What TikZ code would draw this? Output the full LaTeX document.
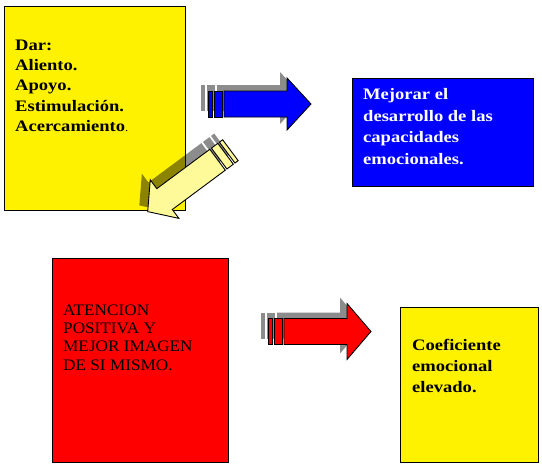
\documentclass[tikz,border=0pt]{standalone}
\usepackage{fontspec}
\setmainfont{Liberation Serif}
\newfontfamily\bfam[FakeStretch=1.16]{Liberation Serif}
\newfontfamily\rfam[FakeStretch=1.075]{Liberation Serif}
\newcommand\blockarr[4]{%
  \begin{scope}[#1]
    \path[#4] (0,-13) rectangle (4,13);
    \path[#4] (6,-13) rectangle (14,13);
    \path[#4] (16,-13) -- (#3,-13) -- (#3,-#2) -- (103,0) -- (#3,#2) -- (#3,13) -- (16,13) -- cycle;
  \end{scope}}
\begin{document}
\begin{tikzpicture}[x=1pt,y=-1pt,
  box/.style={draw=black, line width=1pt, anchor=north west, inner sep=0pt},
  txt/.style={anchor=north west, align=left, inner sep=0pt},
  arrline/.style={draw=black, line width=0.9pt, line join=miter, fill=#1},
  shd/.style={fill=black, opacity=0.45}]
\useasboundingbox (0,0) rectangle (542,467);
\fill[white] (0,0) rectangle (542,467);
% boxes
\node[box, fill=yellow, minimum width=181pt, minimum height=204pt] (b1) at (4,6) {};
\node[box, fill=blue, minimum width=181pt, minimum height=108pt] (b2) at (352,78) {};
\node[box, fill=red, minimum width=176pt, minimum height=204pt] (b3) at (52,258) {};
\node[box, fill=yellow, minimum width=138pt, minimum height=155pt] (b4) at (400,307) {};
% texts
\node[txt, font=\bfam\bfseries\fontsize{16}{20.3}\selectfont] (t1) at (15,36) {\rule{0pt}{14pt}Dar:\\Aliento.\\Apoyo.\\Estimulaci\'on.\\Acercamiento{\mdseries\fontsize{11}{11}\selectfont.}};
\node[txt, font=\bfam\bfseries\fontsize{16}{21.7}\selectfont, text=white] (t2) at (363,85.3) {\rule{0pt}{14pt}Mejorar el\\desarrollo de las\\capacidades\\emocionales.};
\node[txt, font=\rfam\fontsize{16}{18.3}\selectfont] (t3) at (63,301) {\rule{0pt}{14pt}ATENCION\\POSITIVA Y\\MEJOR IMAGEN\\DE SI MISMO.};
\node[txt, font=\bfam\bfseries\fontsize{16}{21.3}\selectfont] (t4) at (412,336) {\rule{0pt}{14pt}Coeficiente\\emocional\\elevado.};
% shadows
\blockarr{shift={(201,98)}}{26}{79}{shd}
\blockarr{shift={(261,325.5)}}{28}{79}{shd}
\blockarr{shift={(222,144)},rotate=216.6}{24}{82}{shd}
% arrows
\blockarr{shift={(208,104)}}{26}{79}{arrline=blue}
\blockarr{shift={(268,331.5)}}{28}{79}{arrline=red}
\blockarr{shift={(230.4,150.2)},rotate=216.6}{24}{82}{arrline={yellow!40}}
\end{tikzpicture}
\end{document}
